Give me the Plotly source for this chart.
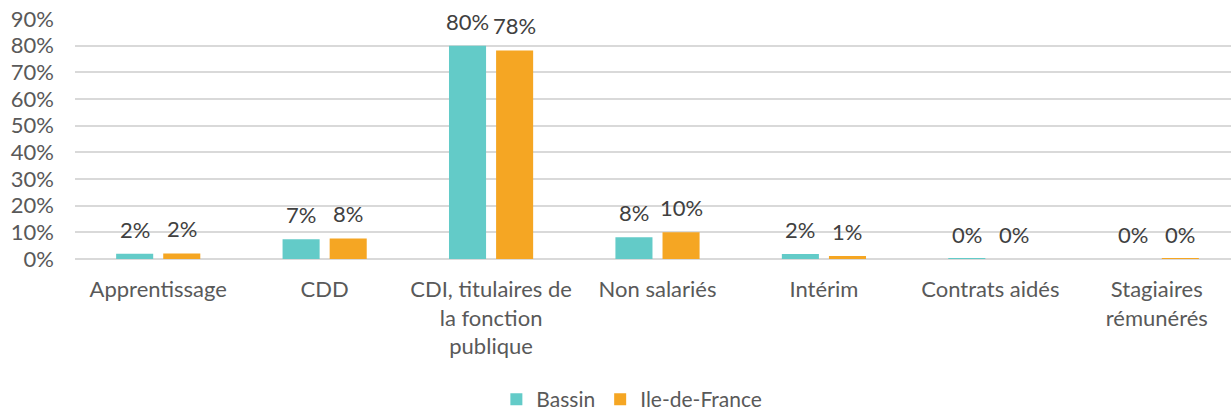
import plotly.graph_objects as go

categories = ["Apprentissage", "CDD", "CDI, titulaires de<br>la fonction<br>publique",
              "Non salariés", "Intérim", "Contrats aidés", "Stagiaires<br>rémunérés"]
bassin = [0.020, 0.074, 0.800, 0.082, 0.019, 0.001, 0.0]
idf = [0.021, 0.077, 0.782, 0.100, 0.011, 0.0, 0.001]
series_names = ["Bassin", "Ile-de-France"]
colors = ["#63CBC8", "#F5A623"]
y_ticks = [0, 0.1, 0.2, 0.3, 0.4, 0.5, 0.6, 0.7, 0.8, 0.9]

FONT = "Lato"
FS = 22
fig = go.Figure()
for name, vals, col in zip(series_names, [bassin, idf], colors):
    fig.add_trace(go.Bar(
        x=categories, y=vals, name=name, marker_color=col,
        marker_line_width=0,
    ))

# data labels as annotations above each bar
for i, (vals, shift) in enumerate(zip([bassin, idf], [-23.5, 23.5])):
    for c, v in zip(categories, vals):
        fig.add_annotation(x=c, y=v, text=f"{round(v*100):.0f}%", showarrow=False,
                           xshift=shift, yshift=9, yanchor="bottom",
                           font=dict(family=FONT, size=FS, color="#404040"))

fig.update_layout(
    width=1240, height=411,
    margin=dict(l=75, r=0, t=19, b=152),
    plot_bgcolor="white", paper_bgcolor="white",
    barmode="group", bargap=0.434, bargroupgap=0.213,
    font=dict(family=FONT, size=FS, color="#595959"),
    showlegend=True,
    legend=dict(orientation="h", x=0.478, xanchor="center",
                yref="container", y=0.028, yanchor="middle",
                tracegroupgap=0, itemwidth=30,
                font=dict(family=FONT, size=21, color="#595959")),
)
fig.update_yaxes(range=[0, 0.9], tickvals=y_ticks, tickformat=".0%",
                 automargin=False,
                 showgrid=True, gridcolor="#D9D9D9", gridwidth=1.5,
                 zeroline=True, zerolinecolor="#D9D9D9", zerolinewidth=1.5,
                 showline=False, ticks="", ticklabelstandoff=20,
                 tickfont=dict(family=FONT, size=FS, color="#595959"))
fig.update_xaxes(showline=False, ticks="", tickangle=0, ticklabelstandoff=15,
                 automargin=False,
                 tickfont=dict(family=FONT, size=FS, color="#595959"))

fig.write_html("out.html", config={"displayModeBar": False},
               post_script="document.body.style.margin='0';document.body.style.overflow='hidden';")
